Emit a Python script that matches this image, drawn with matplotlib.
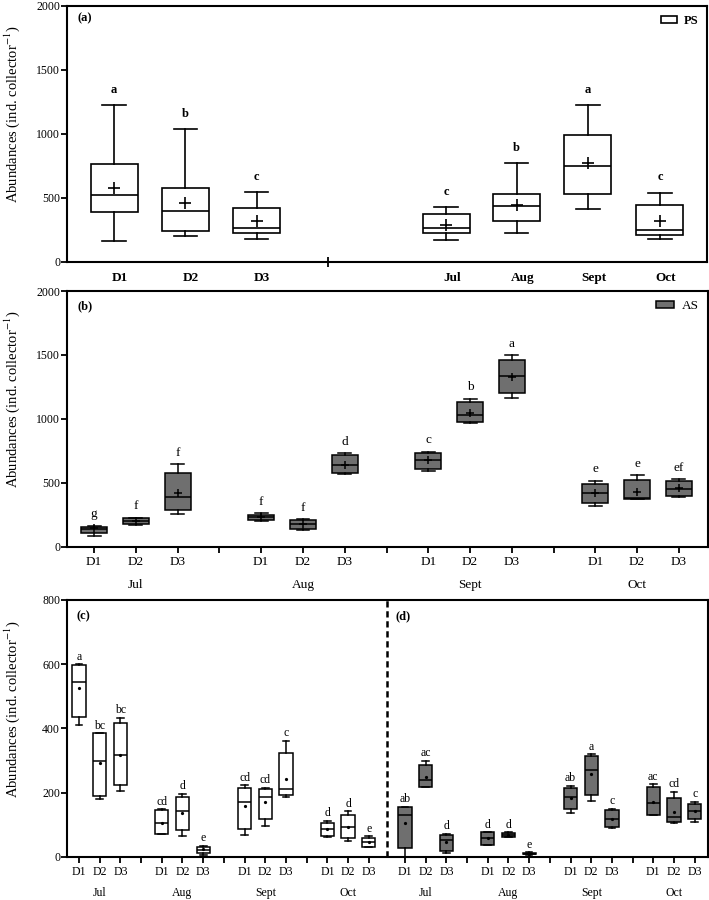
import matplotlib

matplotlib.use("Agg")
import matplotlib.pyplot as plt
import matplotlib.transforms as mtransforms
from matplotlib.patches import Patch

plt.rcParams["font.family"] = ["Liberation Serif", "DejaVu Serif"]
plt.rcParams["mathtext.fontset"] = "stix"

# ---- data ----
months = ["Jul", "Aug", "Sept", "Oct"]
depths = ["D1", "D2", "D3"]

# (a) PS, pooled by depth then by month
ps_labels = ["D1", "D2", "D3", "Jul", "Aug", "Sept", "Oct"]
ps_whislo = [167, 203, 177, 169, 229, 412, 177]
ps_q1 = [393, 245, 224, 229, 320, 529, 214]
ps_med = [526, 398, 268, 268, 440, 753, 253]
ps_q3 = [763, 576, 419, 372, 529, 990, 445]
ps_whishi = [1224, 1039, 547, 430, 771, 1227, 542]
ps_mean = [576, 463, 323, 289, 445, 771, 323]
ps_letters = ["a", "b", "c", "c", "b", "a", "c"]

# (b) AS, month x depth
as_whislo = [86, 170, 253, 198, 128, 568, 592, 970, 1160, 316, 370, 386]
as_q1 = [104, 175, 289, 206, 136, 579, 608, 978, 1202, 344, 375, 399]
as_med = [136, 203, 389, 235, 175, 639, 681, 1030, 1335, 422, 378, 454]
as_q3 = [156, 224, 579, 250, 209, 717, 730, 1129, 1458, 488, 519, 511]
as_whishi = [164, 227, 644, 261, 214, 730, 743, 1155, 1497, 514, 558, 527]
as_mean = [143, 203, 422, 229, 175, 641, 675, 1048, 1330, 417, 430, 456]
as_letters = ["g", "f", "f", "f", "f", "d", "c", "b", "a", "e", "e", "ef"]

# (c) PS, month x depth
c_whislo = [410, 181, 206, 70, 66, 5, 68, 96, 187, 60, 50, 29]
c_q1 = [435, 190, 222, 72, 82, 10, 87, 116, 193, 64, 57, 31]
c_med = [543, 299, 318, 106, 143, 22, 170, 185, 211, 85, 94, 45]
c_q3 = [596, 384, 416, 144, 187, 30, 215, 210, 324, 104, 131, 57]
c_whishi = [600, 384, 433, 148, 195, 33, 223, 215, 361, 111, 141, 63]
c_mean = [526, 291, 318, 106, 137, 23, 158, 170, 242, 85, 94, 45]
c_letters = ["a", "bc", "bc", "cd", "d", "e", "cd", "cd", "c", "d", "d", "e"]

# (d) AS, month x depth
d_whislo = [0, 216, 12, 36, 60, 6, 136, 175, 90, 129, 105, 107]
d_q1 = [28, 216, 19, 36, 61, 7, 149, 193, 92, 131, 109, 116]
d_med = [129, 238, 52, 57, 69, 9, 187, 270, 118, 166, 125, 143]
d_q3 = [154, 286, 69, 76, 74, 11, 213, 313, 144, 218, 182, 165]
d_whishi = [156, 299, 72, 76, 76, 14, 220, 319, 149, 226, 202, 172]
d_mean = [105, 247, 45, 57, 69, 9, 183, 259, 118, 171, 139, 142]
d_letters = ["ab", "ac", "d", "d", "d", "e", "ab", "a", "c", "ac", "cd", "c"]

GRAY = "#6f6f6f"
YLABEL = r"Abundances (ind. collector$^{-1}$)"


def draw_boxes(ax, pos, lo, q1, med, q3, hi, mean, face, width, lw, mmark, msize):
    stats = [
        dict(whislo=a, q1=b, med=c, q3=d, whishi=e, mean=f, fliers=[])
        for a, b, c, d, e, f in zip(lo, q1, med, q3, hi, mean)
    ]
    line = dict(color="black", linewidth=lw)
    ax.bxp(
        stats,
        positions=pos,
        widths=width,
        patch_artist=True,
        showmeans=True,
        showfliers=False,
        manage_ticks=False,
        boxprops=dict(facecolor=face, edgecolor="black", linewidth=lw),
        medianprops=line,
        whiskerprops=line,
        capprops=line,
        meanprops=dict(marker=mmark, markeredgecolor="black", markerfacecolor="black",
                       markersize=msize, markeredgewidth=lw),
    )


def add_letters(ax, pos, hi, letters, off, size, weight="normal"):
    for x, y, t in zip(pos, hi, letters):
        ax.annotate(t, (x, y), xytext=(0, off), textcoords="offset points",
                    ha="center", va="center", fontsize=size, fontweight=weight)


def style_axis(ax, ymax, ystep):
    for sp in ax.spines.values():
        sp.set_linewidth(1.5)
    ax.set_ylim(0, ymax)
    ax.set_yticks(range(0, ymax + 1, ystep))
    ax.tick_params(axis="y", direction="out", length=4, width=1.3, labelsize=8.5, pad=1)
    ax.set_ylabel(YLABEL, fontsize=10.5)
    ax.yaxis.set_label_coords(-0.07, 0.575)


fig = plt.figure(figsize=(7.09, 9.0), dpi=100)

# ---------------- (a) ----------------
ax_a = fig.add_axes([67 / 709, 1 - 262 / 900, 640 / 709, 256 / 900])
pos_a = [1, 2, 3, 5.66, 6.65, 7.65, 8.66]
draw_boxes(ax_a, pos_a, ps_whislo, ps_q1, ps_med, ps_q3, ps_whishi, ps_mean,
           "white", 0.66, 1.2, "+", 9)
add_letters(ax_a, pos_a, ps_whishi, ps_letters, 11, 9, "bold")
ax_a.set_xlim(0.34, 9.32)
ax_a.set_xticks([p + 0.08 for p in pos_a])
ax_a.set_xticklabels(ps_labels, fontsize=9.5, fontweight="bold")
ax_a.tick_params(axis="x", length=0, pad=7)
ax_a.set_xticks([4], minor=True)
ax_a.tick_params(axis="x", which="minor", direction="inout", length=7, width=1.3)
style_axis(ax_a, 2000, 500)
ax_a.text(0.017, 0.94, "(a)", transform=ax_a.transAxes, fontsize=9, fontweight="bold")
ax_a.legend(handles=[Patch(facecolor="white", edgecolor="black", linewidth=1.2)],
            labels=["PS"], loc="upper right", frameon=False, handlelength=1.3,
            handleheight=0.45, handletextpad=0.5, borderaxespad=0.3,
            prop=dict(size=9, weight="bold"))

# ---------------- (b) ----------------
ax_b = fig.add_axes([67 / 709, 1 - 546.7 / 900, 640.7 / 709, 255.7 / 900])
pos_b = [4 * m + d for m in range(len(months)) for d in range(len(depths))]
draw_boxes(ax_b, pos_b, as_whislo, as_q1, as_med, as_q3, as_whishi, as_mean,
           GRAY, 0.62, 1.1, "+", 6)
add_letters(ax_b, pos_b, as_whishi, as_letters, 8.5, 9.5)
ax_b.set_xlim(-0.65, 14.69)
ax_b.set_xticks(pos_b)
ax_b.set_xticklabels(depths * len(months), fontsize=9.5)
ax_b.set_xticks([3, 7, 11], minor=True)
ax_b.tick_params(axis="x", which="both", direction="out", length=4, width=1.3, pad=3)
style_axis(ax_b, 2000, 500)
trans_b = mtransforms.blended_transform_factory(ax_b.transData, ax_b.transAxes)
for m, name in enumerate(months):
    ax_b.text(4 * m + 1, -0.15, name, transform=trans_b, ha="center", va="center",
              fontsize=9.5)
ax_b.text(0.017, 0.93, "(b)", transform=ax_b.transAxes, fontsize=9, fontweight="bold")
ax_b.legend(handles=[Patch(facecolor=GRAY, edgecolor="black", linewidth=1.1)],
            labels=["AS"], loc="upper right", frameon=False, handlelength=1.3,
            handleheight=0.45, handletextpad=0.6, borderaxespad=0.3,
            prop=dict(size=9.5))

# ---------------- (c) + (d) ----------------
ax_c = fig.add_axes([67 / 709, 1 - 856.7 / 900, 641 / 709, 256.7 / 900])
pos_c = [4 * m + d for m in range(len(months)) for d in range(len(depths))]
pos_d = [p + 15.75 for p in pos_c]
draw_boxes(ax_c, pos_c, c_whislo, c_q1, c_med, c_q3, c_whishi, c_mean,
           "white", 0.64, 1.1, "o", 1.2)
draw_boxes(ax_c, pos_d, d_whislo, d_q1, d_med, d_q3, d_whishi, d_mean,
           GRAY, 0.64, 1.1, "o", 1.2)
add_letters(ax_c, pos_c, c_whishi, c_letters, 5.5, 8.5)
add_letters(ax_c, pos_d, d_whishi, d_letters, 5.5, 8.5)
ax_c.axvline(14.86, color="black", linestyle=(0, (2.5, 1.5)), linewidth=1.8)
ax_c.set_xlim(-0.58, 30.39)
ax_c.set_xticks(pos_c + pos_d)
ax_c.set_xticklabels(depths * (2 * len(months)), fontsize=8.5)
ax_c.set_xticks([3, 7, 11, 18.75, 22.75, 26.75], minor=True)
ax_c.tick_params(axis="x", which="both", direction="out", length=4, width=1.3, pad=3)
style_axis(ax_c, 800, 200)
trans_c = mtransforms.blended_transform_factory(ax_c.transData, ax_c.transAxes)
for offset in (0, 15.75):
    for m, name in enumerate(months):
        ax_c.text(offset + 4 * m + 1, -0.141, name, transform=trans_c, ha="center",
                  va="center", fontsize=8.5)
ax_c.text(0.015, 0.925, "(c)", transform=ax_c.transAxes, fontsize=9, fontweight="bold")
ax_c.text(15.3, 0.925, "(d)", transform=trans_c, fontsize=9, fontweight="bold")

fig.savefig("out.png", dpi=100)
plt.close(fig)
